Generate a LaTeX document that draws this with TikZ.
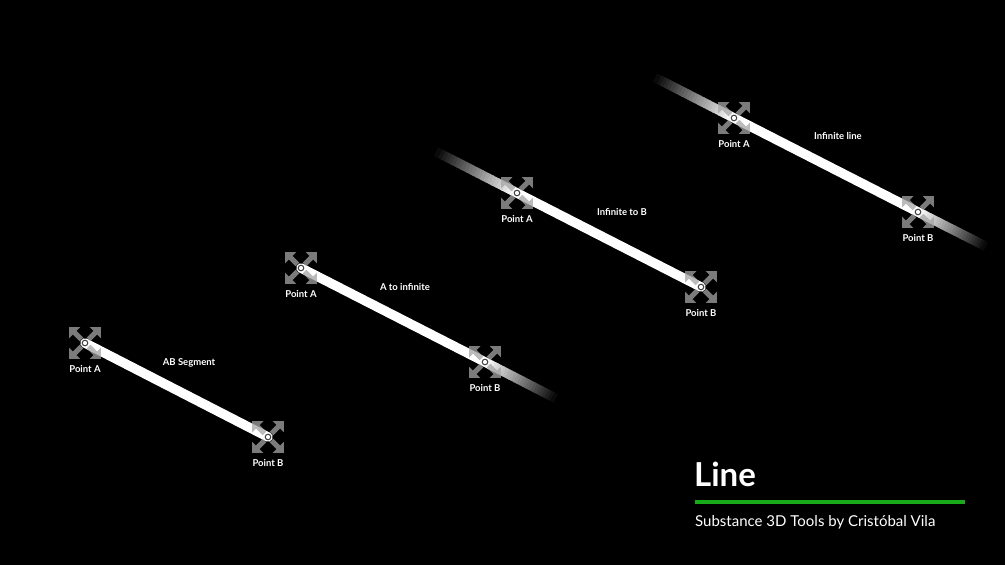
\documentclass[tikz,border=0pt]{standalone}
\usepackage{fontspec}
\setmainfont{Lato}
\usetikzlibrary{calc}

\definecolor{markgray}{RGB}{165,165,165}
\definecolor{titlegreen}{RGB}{25,170,25}

\tikzset{
  bar/.style={line width=9.5pt, white, line cap=round},
  fadebar/.style={line width=9.5pt, line cap=butt},
  lbl/.style={white, font=\fontsize{9.5}{11}\selectfont\bfseries},
  mover/.pic={
    \foreach \r in {45,135,225,315}
      \fill[markgray, opacity=0.75, rotate=\r] (5,-2.5) -- (14.5,-2.5) -- (14.5,-7.8)
        -- (22.6,0) -- (14.5,7.8) -- (14.5,2.5) -- (5,2.5) -- cycle;
    \draw[fill=white, draw=black!75, line width=1pt] (0,0) circle (2.8pt);
  }
}

\begin{document}
\begin{tikzpicture}[x=1pt,y=-1pt]
\fill[black] (0,0) rectangle (1005,565);

% end points
\coordinate (a1) at (85,343);  \coordinate (b1) at (268,437);
\coordinate (a2) at (301,268); \coordinate (b2) at (485,362); \coordinate (e2) at (555,398);
\coordinate (s3) at (437,152); \coordinate (a3) at (517,193); \coordinate (b3) at (701,287);
\coordinate (s4) at (656,78);  \coordinate (a4) at (734,118); \coordinate (b4) at (918,212);
\coordinate (e4) at (985,246);

% bars
\draw[bar] (a1) -- (b1);
\draw[bar] (a2) -- (b2);
\draw[bar] (a3) -- (b3);
\draw[bar, line cap=butt] (a4) -- (b4);

% fading ends
\foreach \i [evaluate=\i as \p using int(100-4*\i)] in {0,...,24}{
  \draw[fadebar, white!\p!black] ($(b2)!\i/25!(e2)$) -- ($(b2)!\i/25+0.052!(e2)$);
  \draw[fadebar, white!\p!black] ($(b4)!\i/25!(e4)$) -- ($(b4)!\i/25+0.052!(e4)$);
  \draw[fadebar, white!\p!black] ($(a3)!\i/25!(s3)$) -- ($(a3)!\i/25+0.052!(s3)$);
  \draw[fadebar, white!\p!black] ($(a4)!\i/25!(s4)$) -- ($(a4)!\i/25+0.052!(s4)$);
}

% handles
\foreach \n in {a1,b1,a2,b2,a3,b3,a4,b4}
  \pic at (\n) {mover};

% labels
\node[lbl] (la1) at ($(a1)+(0,26)$) {Point A};
\node[lbl] (lb1) at ($(b1)+(0,26)$) {Point B};
\node[lbl] (la2) at ($(a2)+(0,26)$) {Point A};
\node[lbl] (lb2) at ($(b2)+(0,26)$) {Point B};
\node[lbl] (la3) at ($(a3)+(0,26)$) {Point A};
\node[lbl] (lb3) at ($(b3)+(0,26)$) {Point B};
\node[lbl] (la4) at ($(a4)+(0,26)$) {Point A};
\node[lbl] (lb4) at ($(b4)+(0,26)$) {Point B};

\node[lbl] (n1) at ($(a1)+(104,20)$) {AB Segment};
\node[lbl] (n2) at ($(a2)+(104,19)$) {A to infinite};
\node[lbl] (n3) at ($(a3)+(105,19)$) {Infinite to B};
\node[lbl] (n4) at ($(a4)+(104,18)$) {Infinite line};

% title
\node[white, anchor=base west, inner sep=0, font=\fontsize{33}{38}\selectfont\bfseries] (title) at (694,486) {Line};
\coordinate (g1) at (695,502); \coordinate (g2) at (965,502);
\draw[titlegreen, line width=4pt] (g1) -- (g2);
\node[white, anchor=base west, inner sep=0, font=\fontsize{15}{18}\selectfont] (sub) at (695,526) {Substance 3D Tools by Cristóbal Vila};
\end{tikzpicture}
\end{document}
